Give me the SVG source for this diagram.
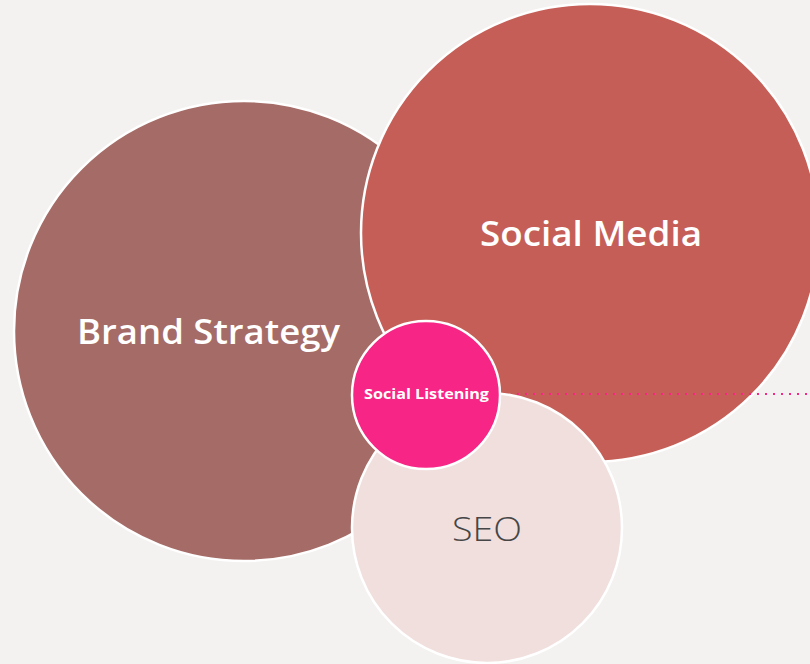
<svg xmlns="http://www.w3.org/2000/svg" width="810" height="664" viewBox="0 0 810 664">
<style>
.c{stroke:#fff;stroke-width:2.5}
.t{font-family:"Open Sans",Lato,"Liberation Sans",sans-serif;text-anchor:middle}
</style>
<rect width="810" height="664" fill="#F3F2F0"/>
<g id="brand-strategy">
<circle class="c" cx="244" cy="331" r="230" fill="#A56B66"/>
<text class="t" x="208.5" y="344" font-size="34" font-weight="600" fill="#fff" textLength="263" lengthAdjust="spacingAndGlyphs">Brand Strategy</text>
</g>
<g id="social-media">
<circle class="c" cx="590" cy="233" r="229" fill="#C55E56"/>
<text class="t" x="591" y="246" font-size="34" font-weight="600" fill="#fff" textLength="222" lengthAdjust="spacingAndGlyphs">Social Media</text>
</g>
<g id="seo">
<circle class="c" cx="487" cy="528" r="135" fill="#F0DFDD"/>
<text class="t" x="487" y="541" font-size="33" font-weight="300" fill="#464646" textLength="70" lengthAdjust="spacingAndGlyphs">SEO</text>
</g>
<g id="connectors">
<line x1="517" y1="394" x2="810" y2="394" stroke="#F72585" stroke-width="2" stroke-dasharray="2 6"/>
</g>
<g id="social-listening">
<circle class="c" cx="426" cy="395" r="74" fill="#F72585"/>
<text class="t" x="426.5" y="399" font-size="13.5" font-weight="bold" fill="#fff" textLength="125" lengthAdjust="spacingAndGlyphs">Social Listening</text>
</g>
</svg>
